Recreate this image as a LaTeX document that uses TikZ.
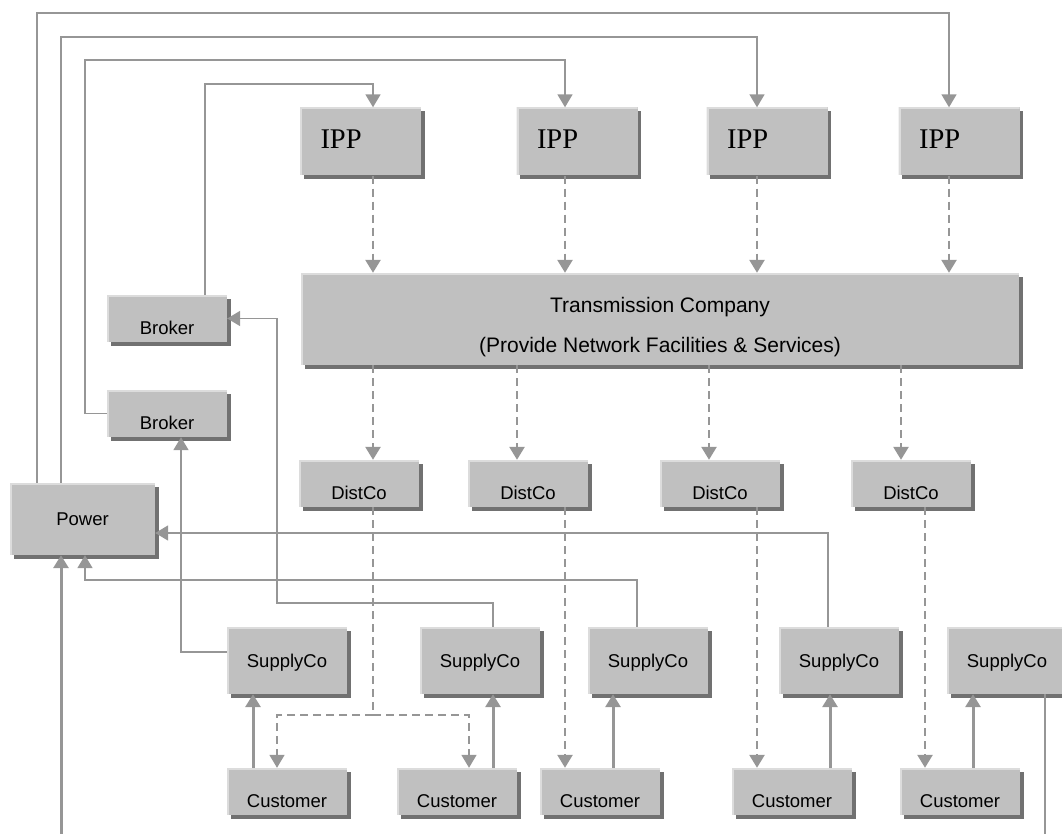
\documentclass[tikz,border=0pt]{standalone}
\usepackage{fontspec}
\setmainfont{Liberation Sans}
\newfontfamily\ippfont{Liberation Serif}
\usepackage{xcolor}
\usepackage{tikz}
\usetikzlibrary{arrows.meta,shadows}
\definecolor{BoxGray}{HTML}{C0C0C0}
\definecolor{EdgeLight}{HTML}{DCDCDC}
\definecolor{EdgeDark}{HTML}{717171}
\definecolor{LineGray}{HTML}{969696}

\begin{document}
\begin{tikzpicture}[x=1pt, y=-1pt,
        every node/.style={font=\fontsize{18.5pt}{22pt}\selectfont, text=black},
        box/.style={fill=BoxGray, draw=none, inner sep=5pt,
            drop shadow={shadow xshift=3.5pt, shadow yshift=-3.5pt,
                opacity=1, fill=EdgeDark},
            path picture={\draw[EdgeLight, line width=4pt]
                (path picture bounding box.south west)
                -- (path picture bounding box.north west)
                -- (path picture bounding box.north east);}},
        SB/.style={box, minimum width=120pt, minimum height=47pt,
            text height=31pt, text depth=0pt},
        TB/.style={box, minimum width=120pt, minimum height=67pt,
            text height=13pt, text depth=0pt},
        PB/.style={box, minimum width=121pt, minimum height=68pt,
            font=\ippfont\fontsize{28.5pt}{30pt}\selectfont,
            text width=80pt, align=left, inner xsep=20.5pt,
            text height=14pt, text depth=0pt},
        link/.style={draw=LineGray, line width=1.7pt},
        arr/.style={link, -{Triangle[length=13pt, width=15pt]}},
        uarr/.style={arr, line width=3pt},
        darr/.style={arr, line width=2.6pt, dash pattern=on 8pt off 5pt},
        tdash/.style={link, dash pattern=on 8pt off 5pt},
        tdarr/.style={arr, dash pattern=on 8pt off 5pt},
      ]

      \path[use as bounding box, clip] (0,0) rectangle (1062,834);

      % Generators and grid
      \node[PB] (ipp1) at (360.5,141.5) {IPP};
      \node[PB] (ipp2) at (577,141.5) {IPP};
      \node[PB] (ipp3) at (767,141.5) {IPP};
      \node[PB] (ipp4) at (959,141.5) {IPP};

      \node[box, minimum width=718pt, minimum height=92pt,
        font=\fontsize{21pt}{40pt}\selectfont, align=center,
        text height=70pt, text depth=4pt] (trans) at (660,319)
        {Transmission Company\\(Provide Network Facilities \& Services)};

      \node[SB] (dis1) at (359,483.5) {DistCo};
      \node[SB] (dis2) at (528,483.5) {DistCo};
      \node[SB] (dis3) at (720,483.5) {DistCo};
      \node[SB] (dis4) at (911,483.5) {DistCo};

      % Traders
      \node[SB] (bro1) at (167,318.5) {Broker};
      \node[SB] (bro2) at (167,413.5) {Broker};
      \node[box, minimum width=145pt, minimum height=72pt,
        text height=13pt, text depth=0pt] (pow) at (82.5,519) {Power};

      % Retail side
      \node[TB] (sup1) at (287,660.5) {SupplyCo};
      \node[TB] (sup2) at (480,660.5) {SupplyCo};
      \node[TB] (sup3) at (648,660.5) {SupplyCo};
      \node[TB] (sup4) at (839,660.5) {SupplyCo};
      \node[TB] (sup5) at (1007,660.5) {SupplyCo};

      \node[SB] (cus1) at (287,791.5) {Customer};
      \node[SB] (cus2) at (457,791.5) {Customer};
      \node[SB] (cus3) at (600,791.5) {Customer};
      \node[SB] (cus4) at (792,791.5) {Customer};
      \node[SB] (cus5) at (960,791.5) {Customer};

      % Route corners
      \coordinate (pA) at (37,13);   \coordinate (pB) at (949,13);
      \coordinate (qA) at (61,37);   \coordinate (qB) at (757,37);
      \coordinate (bA) at (85,60);   \coordinate (bB) at (565,60);
      \coordinate (kA) at (205,84);  \coordinate (kB) at (373,84);
      \coordinate (t2) at (517,420); \coordinate (t3) at (709,420);
      \coordinate (t4) at (901,420); \coordinate (d4) at (925,600);
      \coordinate (split)  at (373,715);
      \coordinate (splitL) at (277,715);
      \coordinate (splitR) at (469,715);
      \coordinate (s1c) at (181,652);
      \coordinate (s2a) at (493,603); \coordinate (s2b) at (277,603);
      \coordinate (s3a) at (637,580); \coordinate (s3b) at (85,580);
      \coordinate (s4a) at (828,533);
      \coordinate (s5a) at (1045,850); \coordinate (s5b) at (61,850);
      \coordinate (u1) at (253,740); \coordinate (u3) at (613,740);
      \coordinate (u4) at (830,740); \coordinate (u5) at (973,740);

      % Bids to the generators
      \draw[arr] (pow.north -| pA) -- (pA) -- (pB) -- (ipp4.north -| pB);
      \draw[arr] (pow.north -| qA) -- (qA) -- (qB) -- (ipp3.north -| qB);
      \draw[arr] (bro2.west) -- (bA |- bro2.west) -- (bA) -- (bB) -- (ipp2.north -| bB);
      \draw[arr] (bro1.north -| kA) -- (kA) -- (kB) -- (ipp1.north -| kB);

      % Energy flow
      \draw[darr] (ipp1.south -| kB) -- (trans.north -| kB);
      \draw[darr] (ipp2.south -| bB) -- (trans.north -| bB);
      \draw[darr] (ipp3.south -| qB) -- (trans.north -| qB);
      \draw[darr] (ipp4.south -| pB) -- (trans.north -| pB);

      \draw[darr] (trans.south -| kB) -- (dis1.north -| kB);
      \draw[darr] (trans.south -| t2) -- (dis2.north -| t2);
      \draw[darr] (trans.south -| t3) -- (dis3.north -| t3);
      \draw[darr] (trans.south -| t4) -- (dis4.north -| t4);

      \draw[tdash] (dis1.south -| kB) -- (split);
      \draw[tdarr] (split) -- (splitL) -- (cus1.north -| splitL);
      \draw[tdarr] (split) -- (splitR) -- (cus2.north -| splitR);
      \draw[darr] (dis2.south -| bB) -- (cus3.north -| bB);
      \draw[darr] (dis3.south -| qB) -- (cus4.north -| qB);
      \draw[darr] (dis4.south -| d4) -- (cus5.north -| d4);

      % Customers to suppliers
      \draw[uarr] (cus1.north -| u1) -- (sup1.south -| u1);
      \draw[uarr] (cus2.north -| s2a) -- (sup2.south -| s2a);
      \draw[uarr] (cus3.north -| u3) -- (sup3.south -| u3);
      \draw[uarr] (cus4.north -| u4) -- (sup4.south -| u4);
      \draw[uarr] (cus5.north -| u5) -- (sup5.south -| u5);

      % Suppliers to traders
      \draw[arr] (sup1.west |- s1c) -- (s1c) -- (bro2.south -| s1c);
      \draw[arr] (sup2.north -| s2a) -- (s2a) -- (s2b) |- (bro1.east);
      \draw[arr] (sup3.north -| s3a) -- (s3a) -- (s3b) -- (pow.south -| s3b);
      \draw[arr] (sup4.north -| s4a) -- (s4a) -- (pow.east |- s4a);
      \draw[link] (sup5.south -| s5a) -- (s5a) -- (s5b);
      \draw[uarr] (s5b) -- (pow.south -| s5b);

    \end{tikzpicture}
\end{document}
